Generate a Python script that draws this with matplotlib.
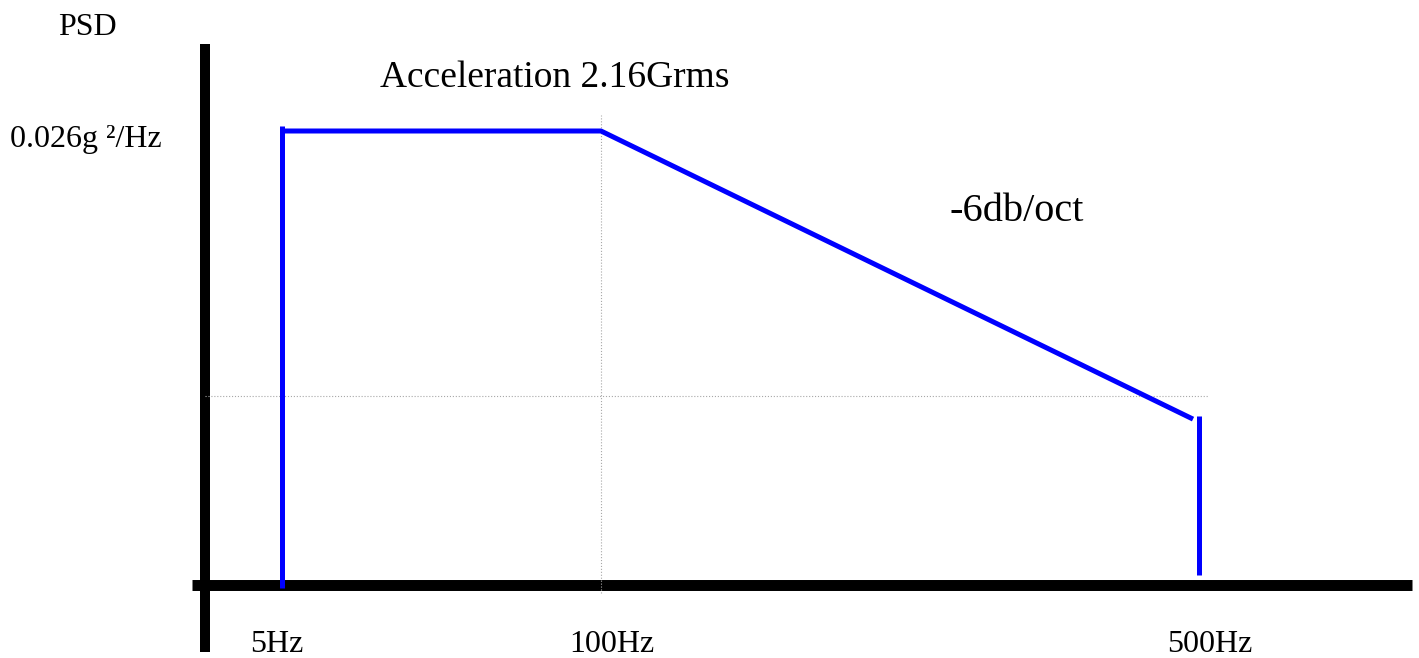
import numpy as np
import matplotlib
matplotlib.use("Agg")
import matplotlib.pyplot as plt

# ---- data (schematic PSD profile) ----
psd_level = 0.026                      # g^2/Hz plateau
plateau_freq = [5, 100, 496]           # Hz, start / knee / end of slope
plateau_psd = [0.026, 0.026, 0.0095]
low_edge_freq = [5, 5]
low_edge_psd = [-0.0002, 0.0263]
high_edge_freq = [500, 500]
high_edge_psd = [0.0006, 0.0097]
grid_psd = 0.0108
grid_freq = 100
tick_freqs = [5, 100, 500]
tick_labels = ["5Hz", "100Hz", "500Hz"]

# schematic (not to scale) frequency axis
f_knots = [0, 5, 100, 500, 700]
u_knots = [0, 77, 396, 994, 1207]

W, H = 1419, 658
plt.rcParams['font.family'] = ['Liberation Serif', 'DejaVu Serif']

fig = plt.figure(figsize=(W / 100, H / 100), dpi=100)
ax = fig.add_axes([205 / W, (H - 585) / H, (1412 - 205) / W, (585 - 44) / H])
ax.set_xscale('function', functions=(lambda f: np.interp(f, f_knots, u_knots),
                                     lambda u: np.interp(u, u_knots, f_knots)))
ax.set_xlim(0, 700)
ax.set_ylim(0, 541 / 454 * psd_level)
ax.axis('off')

def px(x, y):
    return x / W, 1 - y / H

# thick black axes
ax.plot([0, 0], [-(652 - 585) / 541, 1], color='black', lw=7.2,
        transform=ax.transAxes, clip_on=False, solid_capstyle='butt')
ax.plot([(192 - 205) / 1207, 1], [0, 0], color='black', lw=7.9,
        transform=ax.transAxes, clip_on=False, solid_capstyle='butt')

# dotted guide lines
ax.plot([0, 508], [grid_psd, grid_psd], color='#a8a8a8', lw=0.8, ls=':', clip_on=False)
ax.plot([grid_freq, grid_freq], [-0.00046, 0.0269], color='#a8a8a8', lw=0.8, ls=':',
        clip_on=False)

# PSD profile
blue = '#0000ff'
ax.plot(plateau_freq, plateau_psd, color=blue, lw=3.6, clip_on=False,
        solid_capstyle='butt')
ax.plot(low_edge_freq, low_edge_psd, color=blue, lw=3.6, clip_on=False,
        solid_capstyle='butt')
ax.plot(high_edge_freq, high_edge_psd, color=blue, lw=3.6, clip_on=False,
        solid_capstyle='butt')

# x labels
for f, lab in zip(tick_freqs, tick_labels):
    ax.annotate(lab, xy=(f, 0), xycoords=('data', 'axes fraction'),
                xytext=(-32, -(652 - 585)), textcoords='offset pixels',
                ha='left', va='baseline', fontsize=23)

fig.text(*px(58, 35), "PSD", ha='left', va='baseline', fontsize=23)
fig.text(*px(10, 147), "0.026g ²/Hz", ha='left', va='baseline', fontsize=23)
fig.text(*px(380, 87), "Acceleration 2.16Grms", ha='left', va='baseline', fontsize=27)
fig.text(*px(950, 221), "-6db/oct", ha='left', va='baseline', fontsize=29)

fig.savefig("out.png", dpi=100)
